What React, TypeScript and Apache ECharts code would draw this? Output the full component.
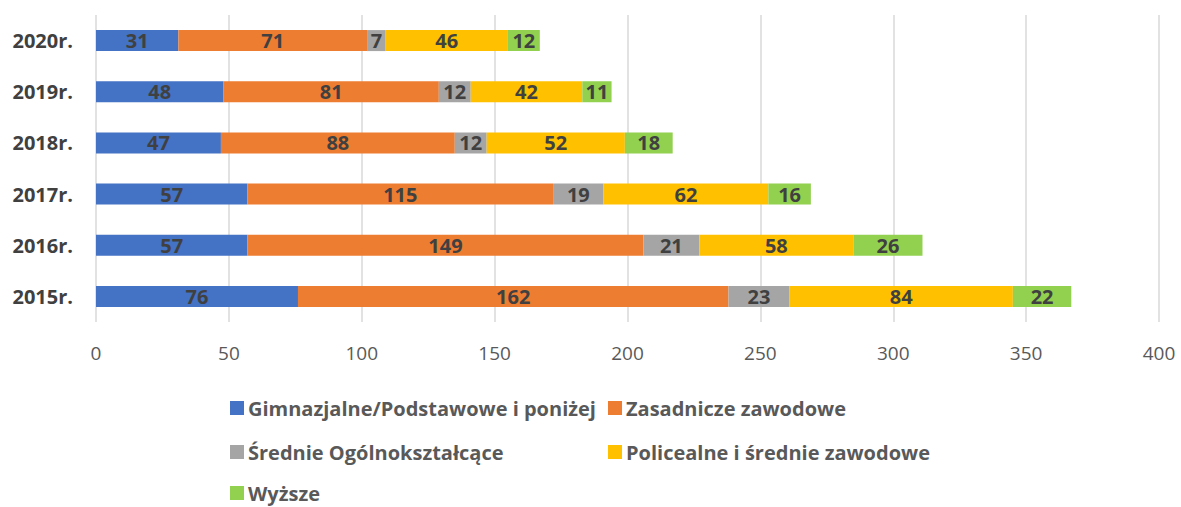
import React, { useEffect, useRef } from "react";
import * as echarts from "echarts";

const categories = ["2015r.", "2016r.", "2017r.", "2018r.", "2019r.", "2020r."];
const seriesNames = [
  "Gimnazjalne/Podstawowe i poniżej",
  "Zasadnicze zawodowe",
  "Średnie Ogólnokształcące",
  "Policealne i średnie zawodowe",
  "Wyższe",
];
const gimnazjalne = [76, 57, 57, 47, 48, 31];
const zasadnicze = [162, 149, 115, 88, 81, 71];
const srednie = [23, 21, 19, 12, 12, 7];
const policealne = [84, 58, 62, 52, 42, 46];
const wyzsze = [22, 26, 16, 18, 11, 12];
const colors = ["#4472C4", "#ED7D31", "#A5A5A5", "#FFC000", "#92D050"];
const xTicks = { min: 0, max: 400, interval: 50 };

const FONT = "'Open Sans', Lato, sans-serif";

export default function App() {
  const ref = useRef<HTMLDivElement>(null);
  useEffect(() => {
    if (!ref.current) return;
    const chart = echarts.init(ref.current, null, { renderer: "svg" });
    const values = [gimnazjalne, zasadnicze, srednie, policealne, wyzsze];
    const legendPos = [
      { left: 230, top: 398 },
      { left: 608, top: 398 },
      { left: 230, top: 442 },
      { left: 608, top: 442 },
      { left: 230, top: 483 },
    ];
    chart.setOption({
      animation: false,
      color: colors,
      textStyle: { fontFamily: FONT },
      grid: { left: 96, right: 22, top: 15, bottom: 185, containLabel: false },
      xAxis: {
        type: "value",
        min: xTicks.min,
        max: xTicks.max,
        interval: xTicks.interval,
        axisLine: { show: false },
        axisTick: { show: false },
        splitLine: { show: true, lineStyle: { color: "#D9D9D9", width: 1.5 } },
        axisLabel: { color: "#595959", fontSize: 19, fontFamily: FONT, margin: 21 },
      },
      yAxis: {
        type: "category",
        data: categories,
        axisLine: { show: false },
        axisTick: { show: false },
        axisLabel: { color: "#404040", fontSize: 20, fontWeight: "bold", fontFamily: FONT, margin: 23 },
      },
      legend: seriesNames.map((name, i) => ({
        data: [name],
        left: legendPos[i].left,
        top: legendPos[i].top,
        orient: "horizontal",
        itemWidth: 14,
        itemHeight: 14,
        itemGap: 5,
        icon: "rect",
        textStyle: {
          color: "#595959",
          fontSize: 20,
          lineHeight: 18,
          fontWeight: "bold",
          fontFamily: FONT,
          padding: [0, 0, 0, -1],
        },
        padding: 0,
      })),
      series: seriesNames.map((name, i) => ({
        name,
        type: "bar",
        stack: "total",
        barWidth: 21,
        data: values[i],
        itemStyle: { color: colors[i] },
        label: {
          show: true,
          position: "inside",
          color: "#404040",
          fontSize: 20,
          fontWeight: "bold",
          fontFamily: FONT,
        },
      })),
    });
    return () => chart.dispose();
  }, []);
  return <div ref={ref} style={{ width: 1181, height: 507, position: "absolute", left: 0, top: 0 }} />;
}
